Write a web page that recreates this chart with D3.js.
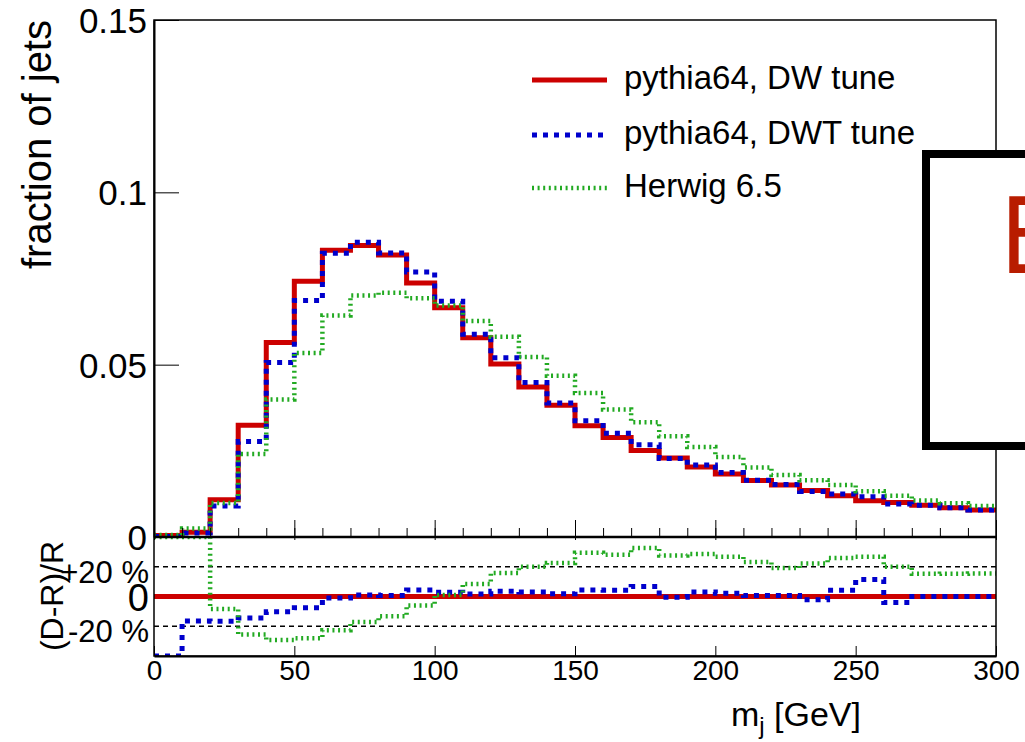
<!DOCTYPE html>
<html>
<head>
<meta charset="utf-8">
<script src="https://cdn.jsdelivr.net/npm/d3@7/dist/d3.min.js"></script>
<style>
  body { margin: 0; background: #fff; }
  svg text { font-family: "Liberation Sans", Arial, Helvetica, sans-serif; fill: #000; }
</style>
</head>
<body>
<div id="root"></div>
<script>
// bin low edges in GeV (10 GeV bins)
const binLow = [0, 10, 20, 30, 40, 50, 60, 70, 80, 90, 100, 110, 120, 130, 140,
  150, 160, 170, 180, 190, 200, 210, 220, 230, 240, 250, 260, 270, 280, 290];
const binHigh = 300;

// fraction of jets per bin
const dwTune = [0.0004, 0.0014, 0.0108, 0.0324, 0.0564, 0.0742, 0.0832, 0.0846, 0.0818, 0.0737,
  0.0665, 0.0578, 0.0502, 0.0435, 0.0382, 0.0323, 0.0289, 0.0251, 0.0229, 0.0203,
  0.0183, 0.0164, 0.0151, 0.0135, 0.0120, 0.0105, 0.0100, 0.0092, 0.0085, 0.0078];
const dwtTune = [0.00015, 0.00117, 0.0090, 0.0277, 0.0506, 0.0686, 0.0823, 0.0855, 0.0824, 0.0769,
  0.0684, 0.0588, 0.0520, 0.0448, 0.0389, 0.0337, 0.0301, 0.0268, 0.0228, 0.0209,
  0.0187, 0.0165, 0.0152, 0.0132, 0.0125, 0.0117, 0.0096, 0.0092, 0.0085, 0.0078];
const herwig = [0.0006, 0.0025, 0.0099, 0.0241, 0.0399, 0.0534, 0.0643, 0.0701, 0.0709, 0.0693,
  0.0672, 0.0627, 0.0581, 0.0522, 0.0468, 0.0418, 0.0370, 0.0333, 0.0292, 0.0261,
  0.0232, 0.0202, 0.0180, 0.0165, 0.0151, 0.0133, 0.0120, 0.0106, 0.0098, 0.0090];

const seriesNames = ["pythia64, DW tune", "pythia64, DWT tune", "Herwig 6.5"];

const yTickValues = [0, 0.05, 0.1, 0.15];
const yTickLabels = ["0", "0.05", "0.1", "0.15"];
const xTickValues = [0, 50, 100, 150, 200, 250, 300];
const xMinorValues = [0, 10, 20, 30, 40, 50, 60, 70, 80, 90, 100, 110, 120, 130, 140, 150,
  160, 170, 180, 190, 200, 210, 220, 230, 240, 250, 260, 270, 280, 290, 300];
const ratioTickValues = [0.2, 0, -0.2];
const ratioTickLabels = ["+20 %", "0", "-20 %"];

const w = 1025;
const h = 742;
const padLeft = 154, padRight = 996;
const padTop = 20, mainBottom = 537, ratioBottom = 656;

const styles = [
  { color: "#cc0000", width: 5, dash: null },
  { color: "#0000cc", width: 5, dash: "5,6" },
  { color: "#22aa22", width: 4.5, dash: "2,3.6" }
];

const svg = d3.select("#root")
  .append("svg")
  .attr("width", w)
  .attr("height", h);

const x = d3.scaleLinear().domain([0, 300]).range([padLeft, padRight]);
const y = d3.scaleLinear().domain([0, 0.15]).range([mainBottom, padTop]);
const yr = d3.scaleLinear().domain([-0.4, 0.4]).range([ratioBottom, mainBottom]).clamp(true);

svg.append("clipPath").attr("id", "clipMain")
  .append("rect").attr("x", padLeft).attr("y", padTop)
  .attr("width", padRight - padLeft).attr("height", mainBottom - padTop);
svg.append("clipPath").attr("id", "clipRatio")
  .append("rect").attr("x", padLeft).attr("y", mainBottom)
  .attr("width", padRight - padLeft).attr("height", ratioBottom - mainBottom);

function stepPoints(vals) {
  const pts = vals.map((v, i) => [binLow[i], v]);
  pts.push([binHigh, vals[vals.length - 1]]);
  return pts;
}

const mainLine = d3.line().x(d => x(d[0])).y(d => y(d[1])).curve(d3.curveStepAfter);
const ratioLine = d3.line().x(d => x(d[0])).y(d => yr(d[1])).curve(d3.curveStepAfter);

const allSeries = [dwTune, dwtTune, herwig];

// ratio panel dashed reference lines
svg.selectAll(".ref")
  .data([0.2, -0.2])
  .enter()
  .append("line")
  .attr("x1", padLeft).attr("x2", padRight)
  .attr("y1", d => yr(d)).attr("y2", d => yr(d))
  .attr("stroke", "#000")
  .attr("stroke-width", 1.3)
  .attr("stroke-dasharray", "5,4");

// main histograms
const gMain = svg.append("g").attr("clip-path", "url(#clipMain)");
allSeries.forEach((s, i) => {
  gMain.append("path")
    .attr("d", mainLine(stepPoints(s)))
    .attr("fill", "none")
    .attr("stroke", styles[i].color)
    .attr("stroke-width", styles[i].width)
    .attr("stroke-dasharray", styles[i].dash);
});

// ratio (D-R)/R with R = DW tune
const gRatio = svg.append("g").attr("clip-path", "url(#clipRatio)");
allSeries.forEach((s, i) => {
  const r = s.map((v, k) => (v - dwTune[k]) / dwTune[k]);
  gRatio.append("path")
    .attr("d", ratioLine(stepPoints(r)))
    .attr("fill", "none")
    .attr("stroke", styles[i].color)
    .attr("stroke-width", styles[i].width)
    .attr("stroke-dasharray", styles[i].dash);
});

// frame
svg.append("rect")
  .attr("x", padLeft).attr("y", padTop)
  .attr("width", padRight - padLeft).attr("height", ratioBottom - padTop)
  .attr("fill", "none").attr("stroke", "#000").attr("stroke-width", 1.5);
svg.append("line")
  .attr("x1", padLeft).attr("x2", padRight).attr("y1", mainBottom).attr("y2", mainBottom)
  .attr("stroke", "#000").attr("stroke-width", 2.5);

// main y axis
const yAxis = d3.axisLeft(y)
  .tickValues(yTickValues)
  .tickFormat((d, i) => yTickLabels[i])
  .tickSizeInner(-25)
  .tickSizeOuter(0)
  .tickPadding(7);
const gy = svg.append("g").attr("transform", `translate(${padLeft},0)`).call(yAxis);
gy.select(".domain").attr("stroke-width", 2);
gy.selectAll("text").style("font-size", "35px").attr("dy", "0.36em");

// main x ticks (pointing up, no labels)
svg.append("g").attr("transform", `translate(0,${mainBottom})`)
  .call(d3.axisBottom(x).tickValues(xMinorValues).tickFormat("").tickSizeInner(-9).tickSizeOuter(0))
  .select(".domain").remove();
svg.append("g").attr("transform", `translate(0,${mainBottom + 3})`)
  .call(d3.axisBottom(x).tickValues(xTickValues).tickFormat("").tickSizeInner(-20).tickSizeOuter(0))
  .select(".domain").remove();

// ratio x axis
const gx = svg.append("g").attr("transform", `translate(0,${ratioBottom})`)
  .call(d3.axisBottom(x).tickValues(xTickValues).tickSizeInner(-10).tickSizeOuter(0).tickPadding(4));
gx.select(".domain").attr("stroke-width", 2);
gx.selectAll("text").style("font-size", "28px");

// ratio y axis
const gyr = svg.append("g").attr("transform", `translate(${padLeft},0)`)
  .call(d3.axisLeft(yr).tickValues(ratioTickValues).tickFormat((d, i) => ratioTickLabels[i])
    .tickSizeInner(0).tickSizeOuter(0).tickPadding(5));
gyr.select(".domain").remove();
gyr.selectAll("text")
  .style("font-size", d => d === 0 ? "38px" : "31px")
  .attr("dy", d => d === 0 ? "0.36em" : "0.5em");

// axis titles
svg.append("text")
  .attr("transform", "translate(51,20) rotate(-90)")
  .attr("text-anchor", "end")
  .style("font-size", "40px")
  .text("fraction of jets");
svg.append("text")
  .attr("transform", "translate(63,596) rotate(-90)")
  .attr("text-anchor", "middle")
  .style("font-size", "32px")
  .text("(D-R)/R");
const xt = svg.append("text")
  .attr("x", 861).attr("y", 726)
  .attr("text-anchor", "end")
  .style("font-size", "34px");
xt.append("tspan").text("m");
xt.append("tspan").attr("dy", 8).style("font-size", "24px").text("j");
xt.append("tspan").attr("dy", -8).text(" [GeV]");

// legend
const legend = svg.append("g");
seriesNames.forEach((name, i) => {
  const ly = [80, 135, 188][i];
  legend.append("line")
    .attr("x1", 532).attr("x2", 607).attr("y1", ly).attr("y2", ly)
    .attr("stroke", styles[i].color)
    .attr("stroke-width", styles[i].width)
    .attr("stroke-dasharray", styles[i].dash);
  legend.append("text")
    .attr("x", 624).attr("y", ly + 9)
    .style("font-size", "33px")
    .text(name);
});

// boxed label on the right (partly cut off)
svg.append("rect")
  .attr("x", 926).attr("y", 154)
  .attr("width", 200).attr("height", 292)
  .attr("fill", "#fff").attr("stroke", "#000").attr("stroke-width", 8);
svg.append("text")
  .attr("x", 1000).attr("y", 273)
  .style("font-size", "105px")
  .style("font-family", "'Liberation Sans Narrow', 'DejaVu Sans Condensed', sans-serif")
  .style("fill", "#b81c00")
  .text("E");
</script>
</body>
</html>
